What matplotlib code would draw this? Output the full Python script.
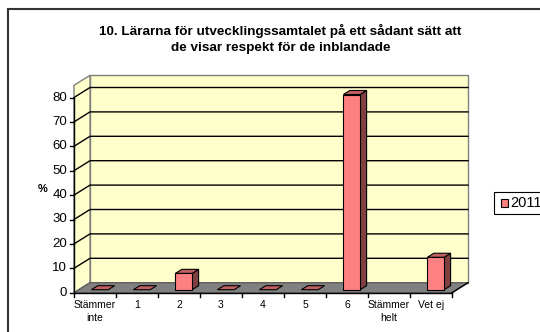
import matplotlib
matplotlib.use("Agg")
import matplotlib.pyplot as plt
from matplotlib.patches import Polygon, Rectangle
from matplotlib.lines import Line2D

# ---- data ----
categories = ["Stämmer\ninte", "1", "2", "3", "4", "5", "6", "Stämmer\nhelt", "Vet ej"]
values_2011 = [0, 0, 6.7, 0, 0, 0, 80, None, 13.3]
y_ticks = [0, 10, 20, 30, 40, 50, 60, 70, 80]
series_name = "2011"
title = "10. Lärarna för utvecklingssamtalet på ett sådant sätt att\nde visar respekt för de inblandade"
y_label = "%"

plt.rcParams["font.family"] = ["Liberation Sans", "DejaVu Sans"]

W, H = 540, 332
fig = plt.figure(figsize=(W / 100, H / 100), dpi=100)

# pixel geometry of the 3D box
X0_PX, PX_PER_CAT = 74, 42.0
Y0_PX, PX_PER_UNIT = 292.7, 2.44
DX = 16 / PX_PER_CAT        # depth offset in category units
DY = 10 / PX_PER_UNIT       # depth offset in value units
WALL_TOP = 85
N = len(categories)

ax = fig.add_axes([0, 0, 1, 1])
ax.set_xlim(-X0_PX / PX_PER_CAT, (W - X0_PX) / PX_PER_CAT)
ax.set_ylim(-(H - Y0_PX) / PX_PER_UNIT, Y0_PX / PX_PER_UNIT)
ax.axis("off")


def P(x, v, d):
    """Project a point at category x, value v, depth fraction d."""
    return (x + d * DX, v + d * DY)


def fx(px):
    return px / W


def fy(py):
    return 1 - py / H


wall_c, wall_e = "#FFFFCC", "#808080"
# back wall, side wall, floor
ax.add_patch(Polygon([P(0, 0, 1), P(N, 0, 1), P(N, WALL_TOP, 1), P(0, WALL_TOP, 1)],
                     closed=True, fc=wall_c, ec=wall_e, lw=1, zorder=1))
ax.add_patch(Polygon([P(0, 0, 0), P(0, 0, 1), P(0, WALL_TOP, 1), P(0, WALL_TOP, 0)],
                     closed=True, fc=wall_c, ec=wall_e, lw=1, zorder=1))
ax.add_patch(Polygon([P(0, 0, 0), P(N, 0, 0), P(N, 0, 1), P(0, 0, 1)],
                     closed=True, fc="#808080", ec="#606060", lw=1, zorder=1))

# gridlines on side and back walls
for t in y_ticks[1:]:
    pts = [P(0, t, 0), P(0, t, 1), P(N, t, 1)]
    ax.plot([p[0] for p in pts], [p[1] for p in pts], color="black", lw=1, zorder=2)

# axes lines
ax.plot([0, 0], [0, y_ticks[-1]], color="black", lw=1, zorder=3)
ax.plot([0, N], [0, 0], color="black", lw=1, zorder=3)
ax.plot([N, P(N, 0, 1)[0]], [0, P(N, 0, 1)[1]], color="black", lw=1, zorder=3)

# ticks
tx = 4 / PX_PER_CAT
ty = 4 / PX_PER_UNIT
for t in y_ticks:
    ax.plot([-tx, 0], [t, t], color="black", lw=1, zorder=3)
    ax.text(-7 / PX_PER_CAT, t, str(t), ha="right", va="center", fontsize=9.5, color="black")
for i in range(N + 1):
    ax.plot([i, i], [0, -ty], color="black", lw=1, zorder=3)
for i, lab in enumerate(categories):
    ax.text(i + 0.5, -(299.5 - Y0_PX) / PX_PER_UNIT, lab, ha="center", va="top",
            fontsize=7.5, linespacing=1.4, color="black")

# bars
front_c, side_c, top_c = "#FF8080", "#804040", "#C06060"
B0, B1 = 0.3, 0.7     # bar extent within a category
D0, D1 = 0.3, 0.7     # bar extent in depth
for i, v in enumerate(values_2011):
    if v is None:
        continue
    x0, x1 = i + B0, i + B1
    if v > 0:
        ax.add_patch(Polygon([P(x1, 0, D0), P(x1, 0, D1), P(x1, v, D1), P(x1, v, D0)],
                             closed=True, fc=side_c, ec="black", lw=0.8, zorder=4))
        ax.add_patch(Polygon([P(x0, 0, D0), P(x1, 0, D0), P(x1, v, D0), P(x0, v, D0)],
                             closed=True, fc=front_c, ec="black", lw=0.8, zorder=5))
    ax.add_patch(Polygon([P(x0, v, D0), P(x1, v, D0), P(x1, v, D1), P(x0, v, D1)],
                         closed=True, fc=top_c, ec="black", lw=0.8, zorder=5))

# axis title
fig.text(fx(43), fy(189), y_label, ha="center", va="center", fontsize=8, fontweight="bold")

# chart title
fig.text(fx(280.5), fy(39), title, ha="center", va="center", fontsize=9.7,
         fontweight="bold", linespacing=1.45)

# legend (runs off the right edge of the canvas)
fig.patches.append(Rectangle((fx(494), fy(214)), (W + 60 - 494) / W, 22 / H,
                             transform=fig.transFigure, fc="white", ec="black", lw=0.8))
fig.patches.append(Rectangle((fx(501), fy(207)), 7 / W, 8 / H,
                             transform=fig.transFigure, fc=front_c, ec="black", lw=0.8))
fig.text(fx(510), fy(203), series_name, ha="left", va="center", fontsize=10.5)

# outer chart border
fig.add_artist(Line2D([fx(8), fx(8)], [fy(9), fy(H + 10)], transform=fig.transFigure,
                      color="#333333", lw=1.5))
fig.add_artist(Line2D([fx(8), fx(W + 10)], [fy(9), fy(9)], transform=fig.transFigure,
                      color="#333333", lw=1.5))

fig.savefig("out.png", dpi=100)
